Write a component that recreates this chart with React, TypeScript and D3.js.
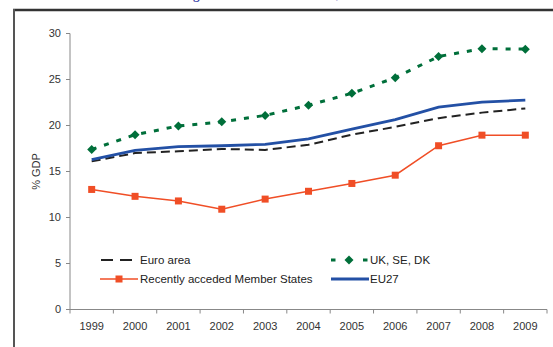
import React from "react";
import * as d3 from "d3";

const years = ["1999","2000","2001","2002","2003","2004","2005","2006","2007","2008","2009"];
const euroArea = [16.1, 17.0, 17.2, 17.45, 17.35, 17.9, 19.0, 19.85, 20.8, 21.4, 21.85];
const ukSeDk = [17.4, 19.0, 19.95, 20.4, 21.1, 22.2, 23.5, 25.2, 27.5, 28.35, 28.3];
const acceded = [13.05, 12.3, 11.8, 10.9, 12.0, 12.85, 13.7, 14.6, 17.8, 18.95, 18.95];
const eu27 = [16.3, 17.3, 17.7, 17.8, 17.95, 18.55, 19.6, 20.65, 22.0, 22.55, 22.75];
const yTicks = [0, 5, 10, 15, 20, 25, 30];

const W = 553, H = 347;
const left = 70, right = 547, top = 33.5, bottom = 309.5;

export default function App() {
  const x = d3.scaleBand<string>().domain(years).range([left, right]);
  const cx = (i: number) => (x(years[i]) as number) + x.bandwidth() / 2;
  const y = d3.scaleLinear().domain([0, 30]).range([bottom, top]);
  const line = d3.line<number>().x((_, i) => cx(i)).y((v) => y(v));
  const font = "Arial, 'Liberation Sans', sans-serif";
  const green = "#006f3a";
  const orange = "#f04e26";
  const blue = "#2350a5";
  const diamond = (px: number, py: number, k: string) => (
    <path key={k} d={`M${px},${py - 4.5}L${px + 4.5},${py}L${px},${py + 4.5}L${px - 4.5},${py}Z`} fill={green} />
  );
  const square = (px: number, py: number, k: string) => (
    <rect key={k} x={px - 3.5} y={py - 3.5} width={7} height={7} fill={orange} />
  );
  const ticksX = [...years.map((yr) => x(yr) as number), right];

  return (
    <svg width={W} height={H} style={{ position: "absolute", left: 0, top: 0 }}>
      <rect width={W} height={H} fill="#fff" />
      <text x={193} y={-1} fontFamily="'Times New Roman', 'Liberation Serif', serif" fontWeight="bold" fontSize={13} fill="#3b3fa8">g</text>
      <text x={336} y={-1} fontFamily="'Times New Roman', 'Liberation Serif', serif" fontWeight="bold" fontSize={13} fill="#3b3fa8">,</text>
      <line x1={13} x2={W} y1={10} y2={10} stroke="#333" strokeWidth={2.5} />
      <line x1={14} x2={14} y1={9} y2={H} stroke="#555" strokeWidth={2} />

      {/* y axis */}
      <line x1={left} x2={left} y1={top} y2={bottom} stroke="#888" strokeWidth={1} />
      {yTicks.map((t) => (
        <g key={t}>
          <line x1={left - 4} x2={left} y1={y(t)} y2={y(t)} stroke="#888" />
          <text x={left - 9} y={y(t)} dy="0.35em" textAnchor="end" fontFamily={font} fontSize={11} fill="#333">{t}</text>
        </g>
      ))}
      <text transform={`translate(40,${(top + bottom) / 2}) rotate(-90)`} textAnchor="middle" fontFamily={font} fontSize={11} fill="#333">% GDP</text>

      {/* x axis */}
      <line x1={left} x2={right} y1={bottom} y2={bottom} stroke="#888" />
      {ticksX.map((tx, i) => (
        <line key={i} x1={tx} x2={tx} y1={bottom} y2={bottom + 4} stroke="#888" />
      ))}
      {years.map((yr, i) => (
        <text key={yr} x={cx(i)} y={330} textAnchor="middle" fontFamily={font} fontSize={11} fill="#333">{yr}</text>
      ))}

      {/* series */}
      <path d={line(acceded) as string} fill="none" stroke={orange} strokeWidth={1.5} />
      {acceded.map((v, i) => square(cx(i), y(v), "s" + i))}
      <path d={line(euroArea) as string} fill="none" stroke="#222" strokeWidth={2} strokeDasharray="9,5" />
      <path d={line(eu27) as string} fill="none" stroke={blue} strokeWidth={2.8} />
      <path d={line(ukSeDk) as string} fill="none" stroke={green} strokeWidth={3} strokeDasharray="5,8" />
      {ukSeDk.map((v, i) => diamond(cx(i), y(v), "d" + i))}

      {/* legend */}
      <g fontFamily={font} fontSize={11.5} fill="#222">
        <line x1={101} x2={137} y1={260} y2={260} stroke="#222" strokeWidth={2} strokeDasharray="12,7" />
        <text x={140} y={260} dy="0.35em">Euro area</text>
        <line x1={331} x2={367.5} y1={260} y2={260} stroke={green} strokeWidth={3} strokeDasharray="4.5,27.5" />
        {diamond(349, 260, "ld")}
        <text x={370} y={260} dy="0.35em">UK, SE, DK</text>
        <line x1={100} x2={138} y1={279} y2={279} stroke={orange} strokeWidth={1.5} />
        {square(119, 279, "ls")}
        <text x={140} y={279} dy="0.35em">Recently acceded Member States</text>
        <line x1={331} x2={369} y1={279} y2={279} stroke={blue} strokeWidth={2.8} />
        <text x={370} y={279} dy="0.35em">EU27</text>
      </g>
    </svg>
  );
}
